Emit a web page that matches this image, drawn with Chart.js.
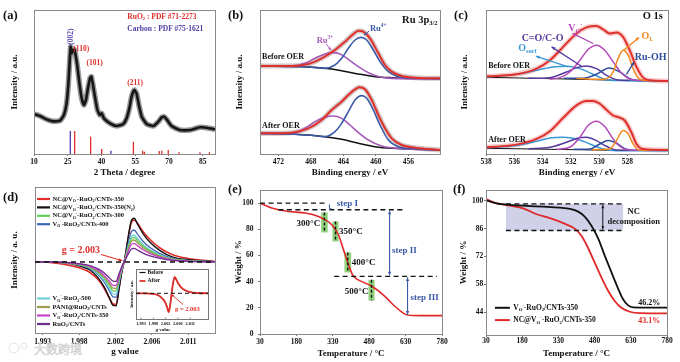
<!DOCTYPE html>
<html>
<head>
<meta charset="utf-8">
<script src="https://cdn.jsdelivr.net/npm/chart.js@4.4.0/dist/chart.umd.min.js"></script>
<style>
  body { margin: 0; background: #fff; }
  #wrap { position: relative; width: 680px; height: 362px; overflow: hidden; }
  #wrap canvas { position: absolute; left: 0; top: 0; }
</style>
</head>
<body>
<div id="wrap">
  <canvas id="pa" width="680" height="362"></canvas>
  <canvas id="pb" width="680" height="362"></canvas>
  <canvas id="pc" width="680" height="362"></canvas>
  <canvas id="pd" width="680" height="362"></canvas>
  <canvas id="pe" width="680" height="362"></canvas>
  <canvas id="pf" width="680" height="362"></canvas>
  <canvas id="pdi" width="680" height="362"></canvas>
</div>
<script>
// ---- (a) XRD ----
const xrdTheta = [10, 12.7, 15.6, 18.6, 21.6, 23.3, 24.5, 25.3, 25.9, 26.3, 26.7, 27.3, 27.9, 28.5, 29.3, 30.2, 31.2, 32.2, 33.1, 34.0, 34.9, 35.5, 36.1, 37.1, 38.2, 39.3, 40.1, 41.1, 43.8, 46.8, 49.7, 51.2, 52.4, 53.4, 54.6, 55.6, 56.8, 57.9, 60.1, 63.1, 65.3, 66.8, 67.8, 69.0, 71.2, 74.9, 79.4, 83.8, 86.8, 90.5];
const xrdInt = [120, 114, 104, 98, 100, 117, 152, 212, 282, 322, 302, 312, 314, 297, 262, 212, 167, 147, 162, 197, 227, 232, 212, 172, 132, 117, 122, 107, 92, 84, 90, 107, 137, 172, 192, 182, 142, 112, 90, 84, 97, 110, 112, 104, 84, 72, 72, 80, 79, 74];
const ruo2Pos = [28.08, 35.2, 40.1, 54.2, 58.3, 59.1, 65.7, 66.8, 69.7, 74.5, 83.8, 88.0];
const ruo2Int = [69, 52, 15, 37, 10, 7, 9, 10, 12, 5, 5, 5];
const carbonPos = [26.15, 44.2];
const carbonInt = [69, 10];
const xTicksA = [10, 25, 40, 55, 70, 85];

// ---- (b) Ru 3p3/2 ----
const bRedB = [[474.26,264],[470.36,264],[468.31,270],[466.67,287],[465.03,312],[463.79,337],[462.77,360],[462.15,370],[461.54,367],[460.72,347],[459.69,302],[458.87,267],[458.05,247],[456.82,234],[455.18,229],[452.10,227]];
const bRu4B = [[474.26,264],[468.31,261],[466.26,257],[465.03,267],[464.21,287],[463.38,317],[462.56,342],[461.83,350],[461.13,342],[460.31,312],[459.49,277],[458.46,247],[457.23,232],[455.59,228],[452.10,226]];
const bRu3B = [[474.26,264],[470.36,264],[468.72,272],[467.49,287],[466.26,300],[465.35,304],[464.41,300],[463.38,284],[462.15,262],[460.92,244],[459.28,230],[457.23,226],[452.10,225]];
const bBaseB = [[474.26,264],[468.31,261],[466.26,257],[464.21,250],[462.15,240],[460.10,232],[458.05,229],[452.10,226]];
const bRedA = [[474.26,62],[470.36,64],[468.31,77],[466.67,102],[465.44,132],[464.21,157],[463.38,177],[462.56,194],[462.03,200],[461.33,194],[460.51,162],[459.69,117],[458.87,77],[458.05,47],[456.82,27],[455.18,19],[452.10,12]];
const bRu4A = [[474.26,62],[468.31,57],[466.26,52],[465.03,67],[464.21,92],[463.38,127],[462.56,162],[461.74,175],[461.13,167],[460.31,132],[459.49,87],[458.46,42],[457.23,22],[455.59,16],[452.10,12]];
const bRu3A = [[474.26,62],[470.36,62],[468.72,77],[467.49,97],[466.26,110],[465.23,114],[464.21,107],[463.18,87],[462.15,64],[460.92,42],[459.28,24],[457.23,17],[452.10,12]];
const bBaseA = [[474.26,62],[468.31,57],[466.26,52],[464.21,44],[462.15,32],[460.10,22],[458.05,17],[452.10,12]];
const xTicksB = [472, 468, 464, 460, 456];

// ---- (c) O 1s ----
const cRedB = [[538,232],[535.84,238],[534.42,255],[533.48,280],[532.54,320],[531.60,360],[530.89,378],[530.19,382],[529.72,372],[529.25,360],[528.78,363],[528.31,350],[527.84,310],[527.36,260],[526.89,228],[526.42,220],[525.13,218]];
const cVoB = [[533.5,224],[532.78,228],[532.07,245],[531.36,280],[530.78,312],[530.19,325],[529.60,310],[529.01,275],[528.42,242],[527.84,224],[527.36,220],[526.5,219]];
const cOLB = [[531.6,226],[530.2,223],[529.48,225],[529.01,245],[528.66,285],[528.31,310],[527.95,295],[527.60,255],[527.25,228],[526.89,220],[526.4,219]];
const cRuOHB = [[532.5,226],[531.13,226],[530.19,238],[529.29,257],[528.54,245],[527.84,225],[527.36,220],[526.8,219]];
const cCOB = [[535,226],[533.48,228],[532.31,245],[531.60,258],[530.89,263],[530.19,255],[529.48,235],[528.78,222],[527.84,220]];
const cOsB = [[538,230],[535.84,238],[534.42,250],[533.25,260],[532.31,262],[531.36,255],[530.42,238],[529.48,222],[528.31,219],[525.13,218]];
const cBaseB = [[538,229],[533.48,225],[530.5,222],[528.78,220],[525.13,218]];
const cRedA = [[538,20],[535.84,28],[534.42,45],[533.48,68],[532.54,108],[531.60,145],[530.89,158],[530.42,158],[529.95,150],[529.48,132],[529.01,115],[528.66,110],[528.19,100],[527.72,65],[527.36,30],[526.89,15],[525.13,12]];
const cVoA = [[533,14],[532.07,20],[531.36,50],[530.78,85],[530.19,98],[529.60,82],[529.01,45],[528.42,20],[527.84,12],[527,11]];
const cOLA = [[530.5,13],[529.25,15],[528.78,40],[528.31,70],[527.95,60],[527.60,30],[527.25,13],[526.89,11],[526.4,11]];
const cRuOHA = [[531.8,14],[530.66,15],[529.95,30],[529.36,40],[528.78,32],[528.07,14],[527.36,11]];
const cCOA = [[535,16],[533.48,20],[532.31,35],[531.48,48],[530.89,50],[530.19,40],[529.48,23],[528.78,12],[527.84,11]];
const cOsA = [[538,18],[535.84,25],[534.42,38],[533.48,48],[532.54,50],[531.60,45],[530.66,30],[529.72,15],[528.78,10],[525.13,10]];
const cBaseA = [[538,17],[533.48,14],[530.5,12],[528.78,11],[525.13,10]];
const xTicksC = [538, 536, 534, 532, 530, 528];

// ---- (d) EPR ----
const dG = [1.99205, 1.99390, 1.99576, 1.99761, 1.99885, 1.99984, 2.00058, 2.00120, 2.00170, 2.00207, 2.00244, 2.00281, 2.00317, 2.00355, 2.00392, 2.00429, 2.00478, 2.00540, 2.00627, 2.00750, 2.00898, 2.01096, 2.01430];
const dNC350 = [0.5, -0.5, -2.5, -6.0, -10.5, -17.5, -26, -35.5, -42, -42.5, -26, -8.6, 4.2, 23.1, 38.6, 42, 38, 30.5, 22.5, 14, 7.5, 3.5, 0.5];
const dNC350N2 = [0, 0, -0.9, -4.0, -8.0, -15.6, -24.6, -34.9, -43.4, -43.8, -26.8, -8.9, 4.4, 24.0, 40.2, 43.7, 37.1, 28.4, 19.7, 11.4, 5.2, 2.2, 0.4];
const dNC300 = [0, 0, -0.6, -2.7, -5.3, -10.4, -16.3, -23.2, -28.8, -29.1, -17.8, -5.9, 2.5, 13.6, 22.7, 24.7, 21.0, 16.1, 11.1, 6.4, 3.0, 1.2, 0.2];
const dVo400 = [0, 0, -0.7, -3.2, -6.5, -12.6, -19.8, -28.1, -34.9, -35.3, -21.6, -7.2, 3.2, 17.6, 29.4, 32, 27.2, 20.8, 14.4, 8.3, 3.8, 1.6, 0.3];
const dVo500 = [0, 0, -0.7, -3.0, -5.9, -11.6, -18.2, -25.7, -32.0, -32.3, -19.8, -6.6, 2.7, 14.9, 24.8, 27, 23, 17.6, 12.2, 7.0, 3.2, 1.4, 0.3];
const dPani = [0, 0, -0.5, -2.4, -4.9, -9.5, -14.9, -21.1, -26.2, -26.5, -16.2, -5.4, 2.2, 12.1, 20.2, 22, 18.7, 14.3, 9.9, 5.7, 2.6, 1.1, 0.2];
const dVo350 = [0, 0, -0.5, -2.2, -4.3, -8.4, -13.2, -18.7, -23.3, -23.5, -14.4, -4.8, 1.9, 10.3, 17.2, 18.7, 15.9, 12.2, 8.4, 4.9, 2.2, 0.9, 0.2];
const dRuO2 = [0, 0, -0.4, -1.8, -3.5, -6.9, -10.8, -15.4, -19.1, -19.3, -11.8, -3.9, 1.4, 7.5, 12.6, 13.7, 11.6, 8.9, 6.2, 3.6, 1.6, 0.7, 0.1];
const dNamesTop = ['NC@V_{O}^{·}-RuO_{2}/CNTs-350', 'NC@V_{O}^{·}-RuO_{2}/CNTs-350(N_{2})', 'NC@V_{O}^{·}-RuO_{2}/CNTs-300', 'V_{O}^{·}-RuO_{2}/CNTs-400'];
const dNamesBot = ['V_{O}^{·}-RuO_{2}-500', 'PANI@RuO_{2}/CNTs', 'V_{O}^{·}-RuO_{2}/CNTs-350', 'RuO_{2}/CNTs'];
const xTicksD = [1.993, 1.9975, 2.002, 2.0065, 2.011];
const xLabelsD = ['1.993', '1.998', '2.002', '2.006', '2.011'];
const inG = [1.99116, 1.99447, 1.99704, 1.99925, 2.00071, 2.00182, 2.00255, 2.00310, 2.00365, 2.00420, 2.00476, 2.00531, 2.00586, 2.00659, 2.00769, 2.00916, 2.01100, 2.01357, 2.01761];
const inAfter = [0, 0, -0.5, -2, -5, -9, -14, -19, -12, 0, 11, 16.5, 14, 10, 6, 3, 1.2, 0.3, 0];
const inBefore = [0, 0, -0.4, -1.8, -4.6, -8.5, -13.4, -18.3, -11.5, 0.2, 10.6, 15.8, 13.5, 9.6, 5.7, 2.8, 1.1, 0.3, 0];

// ---- (e) TGA ----
const tgaTemp = [30, 78, 147, 216, 271, 298, 326, 353, 374, 395, 411, 425, 450, 491, 540, 587, 629, 660, 700, 780];
const tgaWeight = [100, 96.2, 93.6, 92.4, 89.8, 87.3, 83.4, 75.8, 64.4, 52.9, 45.3, 42.5, 40.0, 36.5, 29.5, 21.0, 15.0, 14.1, 14.0, 14.0];
const tempTicks = [30, 180, 330, 480, 630, 780];
const eYTicks = [0, 20, 40, 60, 80, 100];

// ---- (f) TGA comparison ----
const fTempB = [30, 74, 129, 198, 267, 336, 378, 412, 440, 467, 495, 522, 550, 577, 598, 619, 640, 700, 780];
const fWeightB = [100.3, 98.8, 98.0, 97.5, 97.1, 96.6, 96.0, 94.6, 92.0, 87.5, 81.0, 72.5, 64.0, 56.0, 50.5, 47.4, 46.4, 46.3, 46.3];
const fTempR = [30, 74, 129, 184, 240, 295, 350, 400, 426, 453, 481, 509, 536, 564, 591, 626, 667, 780];
const fWeightR = [100.9, 98.8, 97.6, 96.3, 93.3, 91.3, 88.8, 85.8, 82.3, 76.3, 68.8, 61.3, 54.8, 49.5, 46.2, 44.2, 43.5, 43.4];
const fYTicks = [44, 58, 72, 86, 100];

// ---------------------------------------------------------------
const FONT = '"Liberation Serif", "Times New Roman", serif';
Chart.defaults.font.family = FONT;
Chart.defaults.font.weight = 'bold';
Chart.defaults.font.size = 7.5;
Chart.defaults.color = '#111';
const W = 680, H = 362;
const RED = '#e0302c';

// text with _{sub} and ^{sup} parts
function rich(ctx, str, x, y, size, color, align) {
  const parts = [];
  const re = /([_^])\{([^}]*)\}/g;
  let last = 0, m;
  while ((m = re.exec(str))) {
    if (m.index > last) parts.push({ t: str.slice(last, m.index), k: 0 });
    parts.push({ t: m[2], k: m[1] === '_' ? 1 : -1 });
    last = re.lastIndex;
  }
  if (last < str.length) parts.push({ t: str.slice(last), k: 0 });
  const f = k => 'bold ' + (k ? size * 0.62 : size) + 'px ' + FONT;
  let w = 0;
  parts.forEach(p => { ctx.font = f(p.k); p.w = ctx.measureText(p.t).width; w += p.w; });
  let cx = align === 'right' ? x - w : align === 'center' ? x - w / 2 : x;
  ctx.fillStyle = color;
  ctx.textAlign = 'left';
  ctx.textBaseline = 'middle';
  parts.forEach(p => { ctx.font = f(p.k); ctx.fillText(p.t, cx, y + p.k * size * 0.32); cx += p.w; });
}
function line(ctx, a, b, color, w, dash) {
  ctx.save();
  ctx.strokeStyle = color; ctx.lineWidth = w; ctx.setLineDash(dash || []);
  ctx.beginPath(); ctx.moveTo(a[0], a[1]); ctx.lineTo(b[0], b[1]); ctx.stroke();
  ctx.restore();
}
function head(ctx, x, y, ang, hs) {
  ctx.beginPath();
  ctx.moveTo(x, y);
  ctx.lineTo(x - hs * Math.cos(ang - 0.42), y - hs * Math.sin(ang - 0.42));
  ctx.lineTo(x - hs * Math.cos(ang + 0.42), y - hs * Math.sin(ang + 0.42));
  ctx.closePath(); ctx.fill();
}
function arrow(ctx, a, b, color, w, hs, both) {
  line(ctx, a, b, color, w);
  ctx.save(); ctx.fillStyle = color;
  const ang = Math.atan2(b[1] - a[1], b[0] - a[0]);
  head(ctx, b[0], b[1], ang, hs);
  if (both) head(ctx, a[0], a[1], ang + Math.PI, hs);
  ctx.restore();
}
function ytitle(ctx, text, x, y, size) {
  ctx.save(); ctx.translate(x, y); ctx.rotate(-Math.PI / 2);
  rich(ctx, text, 0, 0, size, '#111', 'center');
  ctx.restore();
}

function pts(arr) { return arr.map(p => ({ x: p[0], y: p[1] })); }
function zip(xs, ys) { return xs.map((x, i) => ({ x: x, y: ys[i] })); }
function ds(data, color, w, extra) {
  return Object.assign({ data: data, borderColor: color, borderWidth: w, pointRadius: 0, fill: false,
    cubicInterpolationMode: 'monotone' }, extra || {});
}
function sticks(pos, hts) {
  const out = [];
  pos.forEach((p, i) => { out.push({ x: p, y: 0 }, { x: p, y: hts[i] }, { x: p, y: null }); });
  return out;
}

function axis(o) {
  const s = {
    type: 'linear', min: o.min, max: o.max, reverse: !!o.reverse,
    afterFit: sc => { if (o.w != null) sc.width = o.w; if (o.h != null) sc.height = o.h; },
    border: { display: false },
    grid: { display: !!o.ticks, drawOnChartArea: false, drawTicks: true, tickLength: 2, color: '#777' },
    ticks: { display: !!o.ticks, padding: o.pad || 0, autoSkip: false, maxRotation: 0,
      font: { size: 7.5, weight: 'bold' }, color: '#111' },
    title: { display: !!o.title, text: o.title, padding: 0, font: { size: 9, weight: 'bold' }, color: '#111' }
  };
  if (o.ticks) {
    s.afterBuildTicks = sc => { sc.ticks = o.ticks.map(v => ({ value: v })); };
    s.ticks.callback = (v, i) => String((o.labels || o.ticks)[i]);
  }
  return s;
}

function panel(id, box, xAxis, yAxis, datasets, before, after) {
  const P = c => (x, y) => [c.scales.x.getPixelForValue(x), c.scales.y.getPixelForValue(y)];
  return new Chart(document.getElementById(id), {
    type: 'line',
    data: { datasets: datasets },
    options: {
      responsive: false, animation: false, events: [],
      layout: { padding: { left: box.l - (box.yw || 0), top: box.t, right: W - box.r, bottom: H - box.b - (box.xh || 0) } },
      plugins: { legend: { display: false }, tooltip: { enabled: false } },
      scales: { x: xAxis, y: yAxis }
    },
    plugins: [{
      id: 'deco',
      beforeDatasetsDraw(c) {
        if (!before) return;
        c.ctx.save(); before(c.ctx, P(c), c); c.ctx.restore();
      },
      afterDatasetsDraw(c) {
        const ctx = c.ctx, a = c.chartArea;
        ctx.save();
        ctx.strokeStyle = box.frame || '#8a8a8a'; ctx.lineWidth = 1;
        ctx.strokeRect(Math.round(a.left) + 0.5, Math.round(a.top) + 0.5, Math.round(a.right - a.left), Math.round(a.bottom - a.top));
        ctx.restore();
        if (after) { ctx.save(); after(ctx, P(c), c); ctx.restore(); }
      }
    }]
  });
}

// ----- (a)
panel('pa', { l: 34, t: 10, r: 215, b: 154, yw: 24.4, xh: 24.4 },
  axis({ min: 10, max: 90.5, ticks: xTicksA, pad: 1.5, h: 24.4, title: '2 Theta / degree' }),
  axis({ min: 0, max: 432, w: 24.4, title: 'Intensity / a.u.' }),
  [
    ds(zip(xrdTheta, xrdInt), '#161616', 2.6, { cubicInterpolationMode: 'default', tension: 0.15 }),
    ds(zip(xrdTheta, xrdInt), 'rgba(25,25,25,0.45)', 5.5, { cubicInterpolationMode: 'default', tension: 0.15 }),
    ds(sticks(ruo2Pos, ruo2Int), '#e0302c', 1.3, { cubicInterpolationMode: 'default', tension: 0, spanGaps: false }),
    ds(sticks(carbonPos, carbonInt), '#4b3aa6', 1.3, { cubicInterpolationMode: 'default', tension: 0, spanGaps: false })
  ], null,
  (ctx, P) => {
    rich(ctx, 'RuO_{2} : PDF #71-2273', ...P(51.5, 412), 7.5, '#e0302c', 'left');
    rich(ctx, 'Carbon : PDF #75-1621', ...P(51.5, 374), 7.5, '#5040a8', 'left');
    const q = P(26.3, 352);
    ctx.save(); ctx.translate(q[0], q[1]); ctx.rotate(-Math.PI / 2);
    rich(ctx, '(002)', 0, 0, 7.5, '#5a4cb0', 'center'); ctx.restore();
    rich(ctx, '(110)', ...P(31, 314), 7.5, '#e0302c', 'center');
    rich(ctx, '(101)', ...P(37, 272), 7.5, '#e0302c', 'center');
    rich(ctx, '(211)', ...P(55, 212), 7.5, '#e0302c', 'center');
    rich(ctx, '(a)', 3, 16, 12.5, '#111', 'left');
  });

// ----- (b)
const halo = 'rgba(175,150,150,0.55)';
panel('pb', { l: 260, t: 10, r: 440, b: 154, yw: 25.4, xh: 24.4 },
  axis({ min: 452.1, max: 474.26, reverse: true, ticks: xTicksB, pad: 1.5, h: 24.4, title: 'Binding energy / eV' }),
  axis({ min: 0, max: 432, w: 25.4, title: 'Intensity / a.u.' }),
  [
    ds(pts(bRedB), RED, 2), ds(pts(bRedA), RED, 2),
    ds(pts(bRu4B), '#3a5aa8', 1.6), ds(pts(bRu4A), '#3a5aa8', 1.6),
    ds(pts(bRu3B), '#a45ab8', 1.6), ds(pts(bRu3A), '#a45ab8', 1.6),
    ds(pts(bRedB), halo, 5), ds(pts(bRedA), halo, 5),
    ds(pts(bBaseB), '#111', 1.5), ds(pts(bBaseA), '#111', 1.5)
  ], null,
  (ctx, P) => {
    rich(ctx, 'Ru 3p_{3/2}', ...P(452.4, 402), 10.5, '#111', 'right');
    rich(ctx, 'Ru^{4+}', ...P(460.72, 377), 8.5, '#3a5aa8', 'left');
    rich(ctx, 'Ru^{3+}', ...P(467.28, 340), 8.5, '#a45ab8', 'left');
    arrow(ctx, P(466.1, 330), P(465.5, 311), '#a45ab8', 1, 3.5);
    arrow(ctx, P(460.84, 369), P(461.45, 356), '#3a5aa8', 1, 3.5);
    rich(ctx, 'Before OER', ...P(474.0, 290), 8, '#111', 'left');
    rich(ctx, 'After OER', ...P(474.0, 84), 8, '#111', 'left');
    rich(ctx, '(b)', 228, 16, 12.5, '#111', 'left');
  });

// ----- (c)
const cHalo = 'rgba(240,170,170,0.6)';
const VO = '#b348b8', OL = '#f0871e', RUOH = '#2c4c9c', CO = '#553a9c', OS = '#3b98d6';
panel('pc', { l: 486, t: 10, r: 668, b: 154, yw: 26.4, xh: 24.4 },
  axis({ min: 525.13, max: 538, reverse: true, ticks: xTicksC, pad: 1.5, h: 24.4, title: 'Binding energy / eV' }),
  axis({ min: 0, max: 430, w: 26.4, title: 'Intensity / a.u.' }),
  [
    ds(pts(cRedB), RED, 2), ds(pts(cRedA), RED, 2),
    ds(pts(cOLB), OL, 1.5), ds(pts(cOLA), OL, 1.5),
    ds(pts(cVoB), VO, 1.5), ds(pts(cVoA), VO, 1.5),
    ds(pts(cRuOHB), RUOH, 1.5), ds(pts(cRuOHA), RUOH, 1.5),
    ds(pts(cCOB), CO, 1.5), ds(pts(cCOA), CO, 1.5),
    ds(pts(cOsB), OS, 1.5), ds(pts(cOsA), OS, 1.5),
    ds(pts(cBaseB), '#111', 1), ds(pts(cBaseA), '#111', 1),
    ds(pts(cRedB), cHalo, 5), ds(pts(cRedA), cHalo, 5)
  ], null,
  (ctx, P) => {
    rich(ctx, 'O 1s', ...P(525.5, 410), 10.5, '#111', 'right');
    rich(ctx, 'V_{O}^{·}', ...P(532.19, 375), 10, VO, 'left');
    rich(ctx, 'C=O/C-O', ...P(535.48, 345), 10, CO, 'left');
    rich(ctx, 'O_{surf}', ...P(535.72, 315), 10, OS, 'left');
    rich(ctx, 'O_{L}', ...P(527.0, 352), 10, OL, 'left');
    rich(ctx, 'Ru-OH', ...P(527.48, 288), 10, RUOH, 'left');
    arrow(ctx, P(530.42, 330), P(531.88, 360), VO, 1.3, 4);
    arrow(ctx, P(531.25, 262), P(533.36, 320), CO, 1.3, 4);
    arrow(ctx, P(532.19, 260), P(534.47, 292), OS, 1.3, 4);
    arrow(ctx, P(528.26, 310), P(527.18, 348), OL, 1.3, 4);
    arrow(ctx, P(528.07, 238), P(527.53, 275), RUOH, 1.3, 4);
    rich(ctx, 'Before OER', ...P(537.84, 262), 8, '#111', 'left');
    rich(ctx, 'After OER', ...P(537.84, 42), 8, '#111', 'left');
    rich(ctx, '(c)', 454, 16, 12.5, '#111', 'left');
  });

// ----- (d)
const dColors = [RED, '#111111', '#5fcf5a', '#3f67b5', '#6fd0e0', '#9c9a4e', '#c843c8', '#6b2c8c'];
panel('pd', { l: 35, t: 187, r: 215, b: 333, yw: 25.4, xh: 24.4 },
  axis({ min: 1.99205, max: 2.01430, ticks: xTicksD, labels: xLabelsD, pad: 2.5, h: 24.4, title: 'g value' }),
  axis({ min: -71, max: 75, w: 25.4, title: 'Intensity / a. u.' }),
  [
    ds(zip(dG, dRuO2), dColors[7], 1.3), ds(zip(dG, dVo350), dColors[6], 1.3),
    ds(zip(dG, dPani), dColors[5], 1.3), ds(zip(dG, dNC300), dColors[2], 1.3),
    ds(zip(dG, dVo500), dColors[4], 1.3), ds(zip(dG, dVo400), dColors[3], 1.3),
    ds(zip(dG, dNC350N2), dColors[1], 1.4), ds(zip(dG, dNC350), dColors[0], 1.6)
  ],
  (ctx, P, c) => {
    // watermark
    ctx.font = '12px "Noto Sans CJK SC"';
    ctx.textBaseline = 'middle'; ctx.textAlign = 'left';
    ctx.fillStyle = '#e6e6e6'; ctx.strokeStyle = '#cfcfcf'; ctx.lineWidth = 0.6;
    ctx.fillText('大数跨境', 34, 349); ctx.strokeText('大数跨境', 34, 349);
    ctx.beginPath(); ctx.arc(14, 348, 5, 0, Math.PI * 2); ctx.stroke();
    ctx.beginPath(); ctx.arc(24, 346, 3, 0, Math.PI * 2); ctx.stroke();
  },
  (ctx, P, c) => {
    line(ctx, P(1.99205, 0), P(2.0143, 0), '#111', 1.3, [5, 4]);
    [0, 1, 2, 3].forEach(i => {
      const y = 199 + i * 8.4;
      line(ctx, [37, y], [50, y], dColors[i], 2.2);
      rich(ctx, dNamesTop[i], 52.5, y, 6.5, '#111', 'left');
    });
    [4, 5, 6, 7].forEach((k, i) => {
      const y = 298.5 + i * 8.5;
      line(ctx, [37, y], [50, y], dColors[k], 2.2);
      rich(ctx, dNamesBot[i], 52.5, y, 6.5, '#111', 'left');
    });
    rich(ctx, 'g = 2.003', ...P(1.99773, 12), 10, RED, 'center');
    arrow(ctx, P(2.00021, 7.5), P(2.00285, 1.2), RED, 1.1, 4);
    rich(ctx, '(d)', 3, 198, 12.5, '#111', 'left');
  });

// ----- (d) inset
panel('pdi', { l: 136, t: 269, r: 208.3, b: 319, frame: '#777' },
  { type: 'linear', display: false, min: 1.99116, max: 2.01761 },
  { type: 'linear', display: false, min: -25.7, max: 24.3 },
  [
    ds(zip(inG, inAfter), RED, 1.8),
    ds(zip(inG, inBefore), '#111', 1)
  ],
  (ctx, P, c) => {
    const a = c.chartArea;
    ctx.fillStyle = '#fff';
    ctx.fillRect(a.left, a.top, a.right - a.left, a.bottom - a.top);
  },
  (ctx, P, c) => {
    line(ctx, P(1.99116, 0), P(2.01761, 0), '#111', 1, [4, 3]);
    xTicksD.forEach((v, i) => {
      const x = c.scales.x.getPixelForValue(v);
      line(ctx, [x, 319], [x, 317.5], '#777', 0.8);
      rich(ctx, xLabelsD[i], x, 323.5, 4.3, '#111', 'center');
    });
    rich(ctx, 'g value', 163, 329.5, 5, '#111', 'center');
    ytitle(ctx, 'Intensity / a.u.', 132, 294, 4.5);
    line(ctx, [139.5, 272.5], [145.5, 272.5], '#111', 1.2);
    rich(ctx, 'Before', 147.5, 272.5, 5.5, '#111', 'left');
    line(ctx, [139.5, 281], [145.5, 281], RED, 1.8);
    rich(ctx, 'After', 147.5, 281, 5.5, '#111', 'left');
    rich(ctx, 'g = 2.003', 175, 309, 6.5, RED, 'left');
    arrow(ctx, [183, 304.5], [171.5, 294.5], RED, 0.9, 3);
  });

// ----- (e)
const BLUE = '#3a58a6';
const eBars = [[282, 309, 92.8, 77.6], [328.7, 353.5, 86, 70.7], [378, 405.7, 62.3, 47], [477, 502, 41.4, 25.6]];
panel('pe', { l: 260, t: 190, r: 442, b: 334, yw: 26.9, xh: 24.7 },
  axis({ min: 30, max: 780, ticks: tempTicks, pad: 1.2, h: 24.7, title: 'Temperature / °C' }),
  axis({ min: 0, max: 110, ticks: eYTicks, pad: 4.5, w: 26.9, title: 'Weight / %' }),
  [ds(zip(tgaTemp, tgaWeight), '#e02828', 1.6)],
  (ctx, P) => {
    ctx.fillStyle = '#8fd07a';
    eBars.forEach(b => {
      const p1 = P(b[0], b[2]), p2 = P(b[1], b[3]);
      ctx.fillRect(p1[0], p1[1], p2[0] - p1[0], p2[1] - p1[1]);
    });
  },
  (ctx, P) => {
    eBars.forEach(b => {
      const xm = (b[0] + b[1]) / 2;
      line(ctx, P(xm, b[2]), P(xm, b[3]), '#111', 1.4, [3, 2]);
    });
    const D = [5, 3.5];
    line(ctx, P(30, 100), P(305, 100), '#111', 1.3, D);
    line(ctx, P(105.6, 94.9), P(628.6, 94.9), '#111', 1.3, D);
    line(ctx, P(335.5, 44), P(759, 44), '#111', 1.3, D);
    line(ctx, P(316, 99), P(316, 95.6), BLUE, 1);
    line(ctx, P(316, 95.6), P(326, 95.6), BLUE, 1);
    rich(ctx, 'step I', ...P(346.6, 99.5), 9, BLUE, 'left');
    arrow(ctx, P(564, 94.2), P(564, 44.8), BLUE, 1.1, 4, true);
    rich(ctx, 'step II', ...P(573.6, 63.8), 9, BLUE, 'left');
    arrow(ctx, P(638, 43.2), P(638, 14.8), BLUE, 1.1, 4, true);
    rich(ctx, 'step III', ...P(650, 27.5), 9, BLUE, 'left');
    rich(ctx, '300°C', ...P(278, 84.2), 9, '#111', 'right');
    rich(ctx, '350°C', ...P(356, 78.3), 9, '#111', 'left');
    rich(ctx, '400°C', ...P(408.5, 54.2), 9, '#111', 'left');
    rich(ctx, '500°C', ...P(477, 32.5), 9, '#111', 'right');
    rich(ctx, '(e)', 228, 190, 12.5, '#111', 'left');
  });

// ----- (f)
panel('pf', { l: 486, t: 190, r: 667, b: 335, yw: 27.4, xh: 23.7 },
  axis({ min: 30, max: 780, ticks: tempTicks, pad: 0, h: 23.7, title: 'Temperature / °C' }),
  axis({ min: 32.5, max: 105.5, ticks: fYTicks, pad: 0.7, w: 27.4, title: 'Weight / %' }),
  [
    ds(zip(fTempB, fWeightB), '#111', 1.8),
    ds(zip(fTempR, fWeightR), '#e02828', 1.8)
  ],
  (ctx, P) => {
    const p1 = P(112.7, 98.5), p2 = P(598, 85.1);
    ctx.fillStyle = 'rgba(170,170,215,0.55)';
    ctx.fillRect(p1[0], p1[1], p2[0] - p1[0], p2[1] - p1[1]);
  },
  (ctx, P) => {
    const D = [5, 3.5];
    line(ctx, P(112.7, 98.5), P(598, 98.5), '#111', 1.3, D);
    line(ctx, P(112.7, 85.1), P(598, 85.1), '#111', 1.3, D);
    arrow(ctx, P(514, 97.9), P(514, 85.7), '#111', 1, 3.5, true);
    rich(ctx, 'NC', ...P(642, 94.3), 8.5, '#111', 'center');
    rich(ctx, 'decomposition', ...P(642, 89.6), 8.5, '#111', 'center');
    line(ctx, P(67, 46.2), P(129, 46.2), '#111', 2);
    rich(ctx, 'V_{O}^{·}-RuO_{2}/CNTs-350', ...P(143, 46.2), 7.5, '#111', 'left');
    line(ctx, P(67, 40), P(129, 40), '#e02828', 2);
    rich(ctx, 'NC@V_{O}^{·}-RuO_{2}/CNTs-350', ...P(143, 40), 7.5, '#111', 'left');
    rich(ctx, '46.2%', ...P(752, 48.7), 8, '#111', 'right');
    rich(ctx, '43.1%', ...P(752, 39.6), 8, '#e02828', 'right');
    rich(ctx, '(f)', 453, 190, 12.5, '#111', 'left');
  });
</script>
</body>
</html>
